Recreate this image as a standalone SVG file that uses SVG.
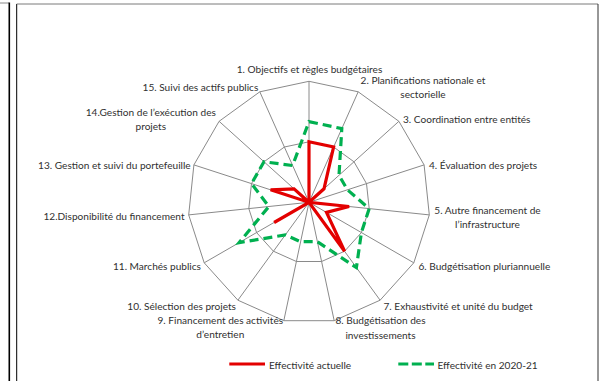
<svg xmlns="http://www.w3.org/2000/svg" width="608" height="381" viewBox="0 0 608 381">
<style>
.grid{fill:none;stroke:#8a8a8a;stroke-width:1}
.lbl{font-family:Lato,"Liberation Sans",sans-serif;font-size:10.1px;fill:#303030}
.m{text-anchor:middle}
.e{text-anchor:end}
.red{fill:none;stroke:#e30000;stroke-width:3.2;stroke-linejoin:miter}
.grn{fill:none;stroke:#00b050;stroke-width:3.2;stroke-dasharray:9 5;stroke-linejoin:miter}
.frame{stroke:#000;fill:none}
</style>
<rect x="0" y="0" width="608" height="381" fill="#fff"/>
<g id="frame">
<line x1="0" y1="3" x2="9" y2="3" stroke="#8a8a8a" stroke-width="1"/>
<line class="frame" x1="9.3" y1="2.5" x2="9.3" y2="381" stroke-width="1.6"/>
<line class="frame" x1="16.7" y1="4" x2="16.7" y2="381" stroke-width="1"/>
<line x1="16.7" y1="4" x2="598" y2="4" stroke="#7a7a7a" stroke-width="1"/>
<line x1="598" y1="4" x2="598" y2="381" stroke="#303030" stroke-width="1"/>
</g>
<g id="grid">
<polygon class="grid" points="309,81.3 358.2,91.8 398.9,121.3 424.1,164.9 429.3,214.9 413.8,262.8 380.1,300.2 334.2,320.7 283.8,320.7 237.9,300.2 204.2,262.8 188.7,214.9 193.9,164.9 219.1,121.3 259.8,91.8"/>
<polygon class="grid" points="309,141.8 333.6,147 354,161.8 366.5,183.6 369.2,208.6 361.4,232.6 344.6,251.2 321.6,261.5 296.4,261.5 273.4,251.2 256.6,232.6 248.8,208.6 251.5,183.6 264,161.8 284.4,147"/>
<path class="grid" d="M309,202.3L309,81.3M309,202.3L358.2,91.8M309,202.3L398.9,121.3M309,202.3L424.1,164.9M309,202.3L429.3,214.9M309,202.3L413.8,262.8M309,202.3L380.1,300.2M309,202.3L334.2,320.7M309,202.3L283.8,320.7M309,202.3L237.9,300.2M309,202.3L204.2,262.8M309,202.3L188.7,214.9M309,202.3L193.9,164.9M309,202.3L219.1,121.3M309,202.3L259.8,91.8"/>
</g>
<g id="series-actuelle">
<polygon class="red" points="309,141.8 333.6,147 324,188.8 309,202.3 349.1,206.5 326.5,212.4 344.6,251.2 309,202.3 309,202.3 309,202.3 274.1,222.5 309,202.3 270.6,189.8 294,188.8 309,202.3"/>
</g>
<g id="series-2020-21">
<polygon class="grn" points="309,121.6 341.8,128.6 339,175.3 347.4,189.8 369.2,208.6 361.4,232.6 356.4,267.6 317.4,241.7 300.6,241.7 285.3,234.9 239.1,242.6 268.9,206.5 251.5,183.6 264,161.8 292.6,165.5"/>
</g>
<g id="labels">
<text class="lbl m" x="309.5" y="73">1. Objectifs et règles budgétaires</text>
<text class="lbl m" x="423" y="84">2. Planifications nationale et</text>
<text class="lbl m" x="423" y="98">sectorielle</text>
<text class="lbl" x="403" y="123">3. Coordination entre entités</text>
<text class="lbl" x="429" y="168.5">4. Évaluation des projets</text>
<text class="lbl m" x="487.5" y="213.5">5. Autre financement de</text>
<text class="lbl m" x="487.5" y="227.5">l’infrastructure</text>
<text class="lbl" x="418.5" y="270">6. Budgétisation pluriannuelle</text>
<text class="lbl" x="383.5" y="309.5">7. Exhaustivité et unité du budget</text>
<text class="lbl m" x="380.5" y="324">8. Budgétisation des</text>
<text class="lbl m" x="380.5" y="338.5">investissements</text>
<text class="lbl m" x="220.3" y="324">9. Financement des activités</text>
<text class="lbl m" x="220.3" y="337.5">d’entretien</text>
<text class="lbl e" x="236" y="309.5">10. Sélection des projets</text>
<text class="lbl e" x="201" y="270">11. Marchés publics</text>
<text class="lbl e" x="184.5" y="219.5">12.Disponibilité du financement</text>
<text class="lbl e" x="190.7" y="168.5">13. Gestion et suivi du portefeuille</text>
<text class="lbl m" x="150.8" y="116">14.Gestion de l’exécution des</text>
<text class="lbl m" x="150.8" y="129.5">projets</text>
<text class="lbl e" x="258.3" y="91">15. Suivi des actifs publics</text>
</g>
<g id="legend">
<line class="red" x1="229.3" y1="364" x2="265" y2="364"/>
<text class="lbl" x="269" y="368.5">Effectivité actuelle</text>
<line class="grn" x1="398.3" y1="364" x2="434" y2="364" style="stroke-dasharray:10 3.5"/>
<text class="lbl" x="437.5" y="368.5">Effectivité en 2020-21</text>
</g>
</svg>
